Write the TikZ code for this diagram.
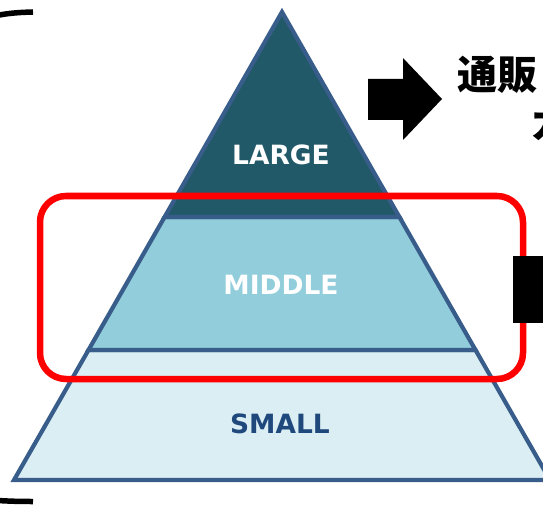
\documentclass[tikz,border=0pt]{standalone}
\usepackage{fontspec}
\setmainfont{DejaVu Sans}
\newfontfamily\jp{Noto Sans CJK JP}
\definecolor{tealL}{HTML}{215968}
\definecolor{midL}{HTML}{92CDDC}
\definecolor{smallL}{HTML}{DBEEF4}
\definecolor{edgeL}{HTML}{385D8A}
\definecolor{smallT}{HTML}{1F497D}
\begin{document}
\begin{tikzpicture}[x=1pt,y=-1pt,
  layer/.style={draw=edgeL,line width=4.2pt,line join=miter},
  lab/.style={font=\bfseries\fontsize{26.5}{26.5}\selectfont},
  blk/.style={fill=black,draw=none}]
\useasboundingbox (0,0) rectangle (543,505);
\clip (0,0) rectangle (543,505);
% layers
\fill[smallL,layer] (88.5,350) -- (475.5,350) -- (550,480) -- (14,480) -- cycle;
\fill[midL,layer] (164.6,217) -- (399.4,217) -- (475.5,350) -- (88.5,350) -- cycle;
\fill[tealL,layer] (282,12) -- (399.4,217) -- (164.6,217) -- cycle;
\node[lab,text=white] (large) at (281,155) {LARGE};
\node[lab,text=white] (middle) at (281,285) {MIDDLE};
\node[lab,text=smallT] (small) at (280,424) {SMALL};
% red frame
\draw[red,line width=6.5pt,rounded corners=26pt] (40,196) rectangle (523,379);
% black arrow
\fill[blk] (368,79) -- (403,79) -- (403,58) -- (442,99) -- (403,140) -- (403,120) -- (368,120) -- cycle;
% right black block
\fill[blk] (513,256) rectangle (570,323);
% japanese text
\node[anchor=base west,inner sep=0pt,font=\jp\bfseries\fontsize{40}{40}\selectfont] (t1) at (457,90) {通販};
\node[anchor=base west,inner sep=0pt,font=\jp\bfseries\fontsize{40}{40}\selectfont] (t2) at (530,139) {カ};
% left bracket
\draw[line width=5.5pt] (33,12) .. controls (15,12.5) and (5,13.5) .. (-10,17);
\draw[line width=5.5pt] (33,501.5) .. controls (15,501.5) and (5,501) .. (-10,500);
\end{tikzpicture}
\end{document}
